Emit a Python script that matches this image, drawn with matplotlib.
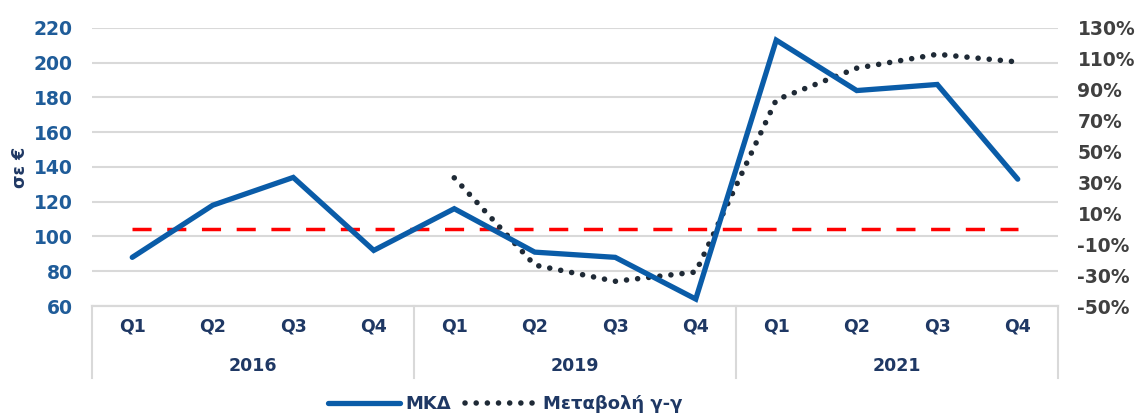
import matplotlib
matplotlib.use("Agg")
import matplotlib.pyplot as plt
import numpy as np

plt.rcParams['font.family'] = ['DejaVu Sans']

quarters = ["Q1", "Q2", "Q3", "Q4"] * 3
years = ["2016", "2019", "2021"]
mkd = [88, 118, 134, 92, 116, 91, 88, 64, 213, 184, 187.5, 133]
yoy = [np.nan, np.nan, np.nan, np.nan, 33, -23.5, -34, -28, 83.5, 104, 113, 108]
left_ticks = list(range(60, 221, 20))
right_ticks = list(range(-50, 131, 20))

navy = "#1F3864"
blue = "#0A5CA8"
grid_c = "#D9D9D9"

fig = plt.figure(figsize=(11.39, 4.15), dpi=100)
ax = fig.add_axes([92/1139, 1-306/415, (1058-92)/1139, (306-28)/415])
ax2 = ax.twinx()

x = np.arange(len(mkd))
ax.set_xlim(-0.5, len(mkd) - 0.5)
ax.set_ylim(60, 220)
ax2.set_ylim(-50, 130)

ax.set_yticks(left_ticks)
ax.set_yticklabels([str(t) for t in left_ticks], color="#1F5C99", fontweight="bold", fontsize=13.5)
ax2.set_yticks(right_ticks)
ax2.set_yticklabels([f"{t}%" for t in right_ticks], color="#404040", fontweight="bold", fontsize=13.5)
ax.tick_params(axis="y", length=0, pad=14)
ax2.tick_params(axis="y", length=0, pad=14)
ax.grid(axis="y", color=grid_c, linewidth=1.5)
ax.set_axisbelow(True)
for a in (ax, ax2):
    for s in ("top", "left", "right"):
        a.spines[s].set_visible(False)
    a.spines["bottom"].set_color(grid_c)
    a.spines["bottom"].set_linewidth(1.5)

ax.set_xticks([])

# red zero line on right axis
ax2.plot([x[0], x[-1]], [0, 0], color="#FF0000", linewidth=2.5, linestyle=(0, (5.5, 4.5)), zorder=2)

l1, = ax2.plot([], [], color=blue, linewidth=3.8, solid_capstyle="round")
ax2.plot(x, [(v - 60) * 180 / 160 - 50 for v in mkd], color=blue, linewidth=3.8,
         solid_capstyle="round", solid_joinstyle="miter", zorder=4)
l2, = ax2.plot(x, yoy, color="#1F2A36", linewidth=4.0, linestyle=(0, (0.01, 2.0)),
               dash_capstyle="round", zorder=3)

# multi-level category axis
trans = ax.get_xaxis_transform()
for i, q in enumerate(quarters):
    ax.text(x[i], -0.075, q, transform=trans, ha="center", va="center",
            color=navy, fontweight="bold", fontsize=12.5)
for j, yr in enumerate(years):
    ax.text(4 * j + 1.5, -0.215, yr, transform=trans, ha="center", va="center",
            color=navy, fontweight="bold", fontsize=12.5)
for b in [-0.5, 3.5, 7.5, 11.5]:
    ax.plot([b, b], [0, -0.26], transform=trans, color=grid_c, linewidth=1.5, clip_on=False)

fig.text(20/1139, 1-167/415, "σε €", rotation=90, ha="center", va="center",
         color=navy, fontweight="bold", fontsize=12.5)

fig.legend([l1, l2], ["ΜΚΔ", "Μεταβολή γ-γ"], loc="center", bbox_to_anchor=(505/1139, 1-404/415),
           ncol=2, frameon=False, handlelength=4, columnspacing=0.8, handletextpad=0.3,
           prop={"weight": "bold", "size": 13}, labelcolor=navy)

fig.savefig("out.png", dpi=100)
